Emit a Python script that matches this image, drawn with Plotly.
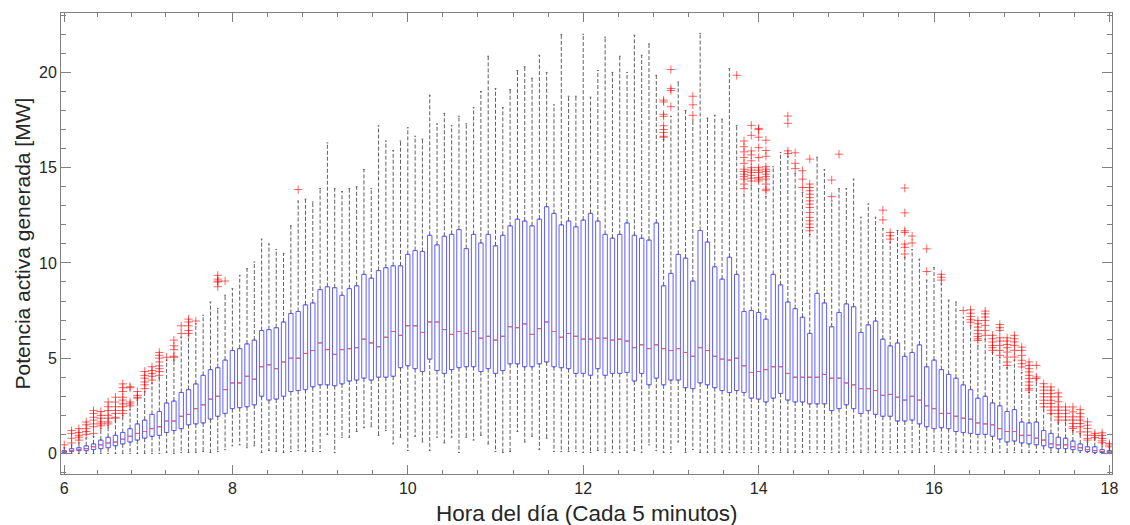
import numpy as np
import plotly.graph_objects as go

# ---------------- data (one box every 5 minutes) ----------------
hour_labels = ["6", "8", "10", "12", "14", "16", "18"]
hour_tick_box = [1, 24, 48, 72, 96, 120, 144]

q1 = [0.05, 0.1, 0.15, 0.15, 0.2, 0.25, 0.3, 0.4, 0.5, 0.6, 0.7, 0.8, 0.9, 0.95, 1.1, 1.2, 1.3, 1.5, 1.55, 1.6,
      1.8, 1.95, 2.1, 2.35, 2.4, 2.45, 2.55, 3.0, 2.8, 2.85, 3.0, 3.25, 3.3, 3.35, 3.5, 3.6, 3.6, 3.55, 3.65, 3.8,
      3.85, 3.95, 3.85, 4.0, 4.0, 4.05, 4.5, 4.6, 4.45, 4.3, 4.95, 4.35, 4.2, 4.4, 4.5, 4.55, 4.55, 4.3, 4.45, 4.2,
      4.35, 4.7, 4.7, 4.55, 4.55, 4.7, 4.8, 4.55, 4.5, 4.45, 4.2, 4.2, 4.1, 4.45, 4.1, 4.2, 4.2, 4.25, 3.8, 4.2,
      3.6, 3.95, 3.6, 3.85, 3.85, 3.45, 3.4, 3.7, 3.6, 3.45, 3.3, 3.2, 3.3, 3.2, 2.9, 2.85, 2.7, 2.9, 3.15, 2.8,
      2.7, 2.7, 2.6, 2.6, 2.6, 2.25, 2.35, 2.55, 2.35, 2.1, 2.25, 2.05, 1.95, 1.95, 1.7, 1.7, 1.75, 1.55, 1.4, 1.3,
      1.35, 1.3, 1.15, 1.1, 1.05, 1.0, 1.0, 0.9, 0.75, 0.6, 0.65, 0.55, 0.5, 0.45, 0.4, 0.3, 0.25, 0.25, 0.2, 0.15,
      0.1, 0.05, 0.05, 0.03]
median = [0.1, 0.15, 0.2, 0.25, 0.35, 0.45, 0.55, 0.6, 0.75, 0.9, 1.05, 1.15, 1.3, 1.4, 1.7, 1.7, 1.95, 2.05, 2.35, 2.55,
          2.85, 3.0, 3.35, 3.7, 3.7, 4.05, 3.9, 4.55, 4.65, 4.45, 4.8, 5.0, 5.0, 5.25, 5.4, 5.8, 5.45, 5.2, 5.45, 5.5,
          5.55, 6.0, 5.8, 5.6, 6.1, 6.4, 6.2, 6.7, 6.7, 6.35, 6.9, 6.9, 6.5, 6.25, 6.4, 6.3, 6.4, 6.05, 6.15, 5.95,
          6.15, 6.65, 6.6, 6.8, 6.25, 6.55, 6.9, 6.4, 6.1, 6.3, 6.15, 6.0, 6.0, 6.05, 6.05, 5.95, 6.0, 5.9, 5.55, 5.7,
          5.5, 5.7, 5.5, 5.4, 5.5, 5.3, 5.1, 5.55, 5.4, 5.1, 4.95, 4.9, 5.0, 4.6, 4.25, 4.3, 4.4, 4.55, 4.55, 4.2,
          4.0, 4.0, 4.0, 4.0, 4.15, 3.95, 3.95, 3.7, 3.6, 3.4, 3.4, 3.3, 3.05, 3.1, 2.95, 2.8, 3.0, 2.8, 2.5, 2.35,
          2.1, 2.1, 1.95, 1.85, 1.8, 1.6, 1.55, 1.5, 1.3, 1.15, 1.15, 0.95, 0.95, 0.8, 0.7, 0.5, 0.45, 0.45, 0.35, 0.3,
          0.2, 0.15, 0.1, 0.08]
q3 = [0.15, 0.25, 0.3, 0.4, 0.5, 0.7, 0.85, 0.95, 1.1, 1.3, 1.55, 1.75, 2.05, 2.2, 2.65, 2.75, 3.2, 3.35, 3.65, 4.1,
      4.4, 4.5, 4.9, 5.4, 5.5, 5.75, 5.95, 6.45, 6.5, 6.6, 6.9, 7.35, 7.45, 7.8, 7.9, 8.6, 8.75, 8.7, 8.3, 8.65,
      8.8, 9.4, 9.2, 9.6, 9.75, 9.85, 9.85, 10.45, 10.65, 10.6, 11.45, 10.95, 11.4, 11.5, 11.75, 10.75, 11.5, 11.05, 11.5, 10.9,
      11.45, 11.95, 12.3, 12.2, 11.95, 12.3, 12.95, 12.6, 12.0, 12.2, 11.9, 12.25, 12.6, 12.2, 11.5, 11.3, 11.5, 12.1, 11.45, 11.3,
      11.2, 12.1, 8.8, 9.45, 10.45, 10.25, 9.05, 11.7, 11.1, 9.8, 9.15, 10.3, 9.4, 7.45, 7.5, 7.4, 7.05, 9.4, 8.85, 7.95,
      7.6, 7.15, 6.3, 8.4, 7.9, 6.65, 7.4, 7.85, 7.7, 6.35, 6.75, 6.95, 6.0, 5.65, 5.8, 5.1, 5.3, 5.7, 4.55, 4.9,
      4.4, 4.15, 3.95, 3.6, 3.35, 2.9, 3.0, 2.65, 2.5, 2.2, 2.3, 1.65, 1.6, 1.65, 1.2, 1.05, 0.85, 0.8, 0.65, 0.5,
      0.35, 0.35, 0.2, 0.15]
whisker_low = [0.0, 0.0, 0.0, 0.0, 0.0, 0.0, 0.0, 0.0, 0.0, 0.0, 0.0, 0.0, 0.0, 0.0, 0.05, 0.0, 0.05, 0.05, 0.05, 0.1,
               0.05, 0.1, 0.2, 0.4, 0.45, 0.3, 0.4, 0.05, 0.15, 0.1, 0.05, 0.1, 0.15, 0.1, 0.1, 0.1, 1.0, 0.05, 0.85, 0.85,
               1.15, 1.35, 1.4, 0.95, 1.2, 0.5, 0.85, 0.15, 0.9, 0.6, 0.15, 0.85, 0.55, 0.85, 0.05, 0.85, 0.7, 0.95, 0.5, 0.1,
               0.05, 0.1, 1.15, 0.6, 0.9, 0.2, 0.8, 0.1, 0.1, 0.1, 0.1, 0.05, 0.05, 0.15, 0.05, 0.05, 0.05, 0.05, 0.15, 0.05,
               0.45, 0.15, 0.05, 0.05, 0.6, 0.05, 0.2, 0.05, 0.05, 0.05, 0.05, 0.05, 0.05, 0.05, 0.05, 0.05, 0.05, 0.05, 0.05, 0.05,
               0.05, 0.05, 0.05, 0.05, 0.05, 0.05, 0.05, 0.05, 0.05, 0.05, 0.05, 0.05, 0.05, 0.05, 0.05, 0.05, 0.05, 0.05, 0.05, 0.1,
               0.05, 0.05, 0.05, 0.05, 0.05, 0.05, 0.05, 0.05, 0.05, 0.05, 0.05, 0.05, 0.05, 0.05, 0.05, 0.05, 0.05, 0.05, 0.05, 0.05,
               0.05, 0.0, 0.0, 0.0]
whisker_high = [0.3, 0.45, 0.55, 0.8, 0.9, 1.3, 1.45, 1.7, 2.0, 2.3, 2.8, 3.25, 3.7, 4.0, 4.9, 4.9, 6.1, 6.2, 6.8, 7.25,
                7.95, 7.6, 8.3, 8.65, 9.35, 9.7, 10.05, 11.25, 11.0, 10.7, 10.5, 11.95, 13.25, 13.35, 13.2, 13.9, 16.3, 13.9, 13.75, 13.9,
                14.0, 14.9, 13.9, 17.2, 16.4, 15.9, 16.4, 17.1, 16.65, 16.5, 18.8, 17.3, 17.85, 17.2, 17.7, 17.3, 18.15, 19.0, 20.85, 19.15,
                18.15, 19.1, 20.1, 20.3, 19.7, 20.9, 20.0, 18.3, 22.0, 18.75, 18.75, 22.0, 18.7, 20.1, 21.85, 20.0, 20.85, 20.0, 21.95, 20.9,
                21.5, 19.85, 16.5, 17.7, 19.5, 18.0, 17.5, 22.05, 17.6, 17.75, 17.55, 20.2, 17.2, 13.6, 14.05, 13.9, 13.5, 15.05, 15.8, 15.6,
                14.7, 13.7, 11.5, 15.55, 14.9, 13.25, 13.9, 13.9, 14.4, 12.4, 13.1, 12.4, 11.8, 11.1, 11.7, 10.3, 10.7, 10.2, 9.1, 9.75,
                8.9, 8.05, 7.95, 7.15, 6.7, 5.65, 6.0, 5.3, 5.05, 4.5, 4.9, 4.25, 3.2, 3.85, 2.45, 2.1, 1.65, 1.75, 1.2, 1.05,
                0.6, 0.8, 0.5, 0.3]

outlier_boxes = [1, 2, 3, 4, 5, 6, 7, 8, 9, 10, 11, 12, 13, 14, 15, 16, 17, 18, 19, 22, 23, 33,
                 83, 84, 87, 93, 94, 95, 96, 97, 100, 101, 102, 103, 106, 107, 113, 114, 116, 117, 119, 121,
                 124, 125, 126, 127, 128, 129, 130, 131, 132, 133, 134, 135, 136, 137, 138, 139, 140, 141, 142, 143, 144]
outlier_values = [
    [0.45],
    [1.2, 1.05, 0.8, 0.55],
    [1.3, 1.1, 0.95, 0.85, 0.7],
    [1.65, 1.5, 1.3, 1.15, 1.0],
    [2.25, 2.1, 1.9, 1.75, 1.55, 1.4, 1.05],
    [2.2, 2.0, 1.85, 1.65, 1.55, 1.45],
    [2.7, 2.45, 2.25, 2.0, 1.85, 1.65, 1.55],
    [2.95, 2.7, 2.45, 2.25, 2.1, 1.9, 1.85],
    [3.65, 3.45, 3.25, 2.95, 2.8, 2.6, 2.45, 2.25, 2.1],
    [3.5, 3.45, 2.7, 2.6, 2.5],
    [3.25, 3.05, 2.95, 2.9],
    [4.3, 4.1, 3.95, 3.75, 3.6, 3.4],
    [4.55, 4.35, 4.2, 4.05, 3.85],
    [5.3, 5.15, 5.0, 4.8, 4.6, 4.45, 4.3, 4.1],
    [5.05],
    [5.95, 5.65, 5.45, 5.1, 5.05],
    [6.7, 6.3],
    [7.05, 6.9, 6.7, 6.45, 6.3],
    [6.95],
    [9.35, 9.15, 9.05, 9.0, 8.75],
    [9.05],
    [13.85],
    [18.55, 18.45, 17.8, 17.7, 17.2, 17.0, 16.85, 16.65, 16.6],
    [20.15, 19.15, 19.05, 18.2],
    [18.75, 18.3, 17.75],
    [19.85],
    [16.4, 16.1, 15.83, 15.53, 15.23, 14.92, 14.8, 14.66, 14.53, 14.4, 14.14, 13.9],
    [17.22, 16.7, 15.88, 15.67, 15.36, 15.0, 14.87, 14.75, 14.6, 14.45, 14.3],
    [17.06, 17.0, 16.6, 16.05, 15.53, 15.0, 14.87, 14.75, 14.48, 14.4, 14.3],
    [16.44, 15.9, 15.6, 15.05, 14.92, 14.8, 14.66, 14.53, 14.4, 14.14, 13.87, 13.79],
    [17.71, 17.33, 15.88, 15.74],
    [15.78, 15.23, 14.95],
    [14.84, 14.4, 13.96],
    [15.45, 14.14, 13.96, 13.79, 13.61, 13.43, 13.26, 13.09, 12.91, 12.65, 12.39, 12.21, 12.04, 11.86, 11.69],
    [14.35, 13.48],
    [15.71],
    [12.77, 12.26],
    [11.6, 11.43, 11.25],
    [13.93, 12.63, 11.69, 11.6, 10.99, 10.82, 10.47],
    [11.41, 11.05],
    [10.74, 9.55],
    [9.4, 9.25, 9.1],
    [7.5],
    [7.54, 7.36, 7.19, 7.02, 6.89],
    [6.98, 6.81, 6.63, 6.46, 6.28, 6.14, 6.02, 5.93],
    [7.47, 7.33, 7.16, 6.98, 6.72, 6.46, 6.2],
    [6.2, 6.02, 5.85, 5.67, 5.55, 5.41],
    [6.77, 6.6, 6.46, 6.07, 5.9, 5.67, 5.41, 5.15],
    [6.07, 5.9, 5.72, 5.55, 5.32, 5.06, 4.8, 4.62],
    [6.2, 6.02, 5.85, 5.67, 5.41, 5.06],
    [5.58, 5.41, 5.15, 4.89, 4.71, 4.54],
    [4.8, 4.62, 4.45, 4.28, 4.1, 3.93, 3.75, 3.58, 3.4, 3.32],
    [4.62, 4.01, 3.93],
    [3.66, 3.49, 3.32, 3.14, 2.97, 2.79, 2.62, 2.44],
    [3.49, 3.32, 3.14, 2.97, 2.79, 2.62, 2.44, 2.27, 2.09],
    [3.18, 2.97, 2.71, 2.44, 2.27, 2.09, 1.92, 1.75],
    [2.44, 2.27, 2.09, 1.92, 1.75],
    [2.44, 2.18, 1.92, 1.75, 1.57, 1.4, 1.31],
    [2.3, 2.09, 1.92, 1.75, 1.57, 1.4, 1.13],
    [1.66, 1.48, 1.31, 1.13, 0.96, 0.79, 0.7],
    [1.05, 0.94, 0.84],
    [1.08, 0.94, 0.79, 0.66, 0.56],
    [0.52, 0.44, 0.35],
]

x_title = "Hora del día (Cada 5 minutos)"
y_title = "Potencia activa generada [MW]"

# ---------------- styling ----------------
BOX_W = 0.6
CAP_W = 0.12
BLUE = "rgb(95,95,255)"
RED = "rgb(255,90,90)"
WHISK = "rgb(95,95,95)"
AX = "rgb(128,128,128)"
TXT = "rgb(38,38,38)"
FONT = "Liberation Sans, Arial, sans-serif"

pos = np.arange(1, len(q1) + 1)

# whiskers (dashed)
wx, wy = [], []
for p, lo, a, b, hi in zip(pos, whisker_low, q1, q3, whisker_high):
    wx += [p, p, None, p, p, None]
    wy += [b, hi, None, a, lo, None]

# whisker caps
cx, cy = [], []
for p, lo, hi in zip(pos, whisker_low, whisker_high):
    cx += [p - CAP_W, p + CAP_W, None, p - CAP_W, p + CAP_W, None]
    cy += [hi, hi, None, lo, lo, None]

# medians
mx, my = [], []
for p, m in zip(pos, median):
    mx += [p - BOX_W / 2 + 0.05, p + BOX_W / 2 - 0.05, None]
    my += [m, m, None]

ox, oy = [], []
for b, vals in zip(outlier_boxes, outlier_values):
    ox += [b] * len(vals)
    oy += vals

fig = go.Figure()
fig.add_trace(go.Scatter(x=wx, y=wy, mode="lines",
                         line=dict(color=WHISK, width=1, dash="4px,2px"),
                         hoverinfo="skip", showlegend=False))
fig.add_trace(go.Scatter(x=cx, y=cy, mode="lines",
                         line=dict(color=WHISK, width=1),
                         hoverinfo="skip", showlegend=False))
fig.add_trace(go.Box(x=pos, q1=q1, median=median, q3=q3,
                     lowerfence=q1, upperfence=q3, width=BOX_W,
                     line=dict(color=BLUE, width=1),
                     fillcolor="rgba(0,0,0,0)", boxpoints=False,
                     showlegend=False))
fig.add_trace(go.Scatter(x=mx, y=my, mode="lines",
                         line=dict(color=RED, width=1),
                         hoverinfo="skip", showlegend=False))
fig.add_trace(go.Scatter(x=ox, y=oy, mode="markers",
                         marker=dict(symbol="cross-thin", size=6,
                                     line=dict(color="rgba(255,0,0,0.6)", width=1)),
                         showlegend=False))

# minor ticks: 5 subdivisions between labelled hours
minor_x = []
for a, b in zip(hour_tick_box[:-1], hour_tick_box[1:]):
    minor_x += list(np.linspace(a, b, 6)[1:-1])

fig.update_layout(
    width=1130, height=525,
    margin=dict(l=61, r=14, t=12, b=51),
    paper_bgcolor="white", plot_bgcolor="white",
    font=dict(family=FONT, color=TXT, size=16),
    showlegend=False,
    annotations=[
        dict(text=x_title, xref="paper", yref="paper", x=0.5, y=0,
             xanchor="center", yanchor="middle", yshift=-39, showarrow=False,
             font=dict(size=22.5, color=TXT, family=FONT)),
        dict(text=y_title, xref="paper", yref="paper", x=0, y=0.5,
             xanchor="center", yanchor="middle", xshift=-39, textangle=-90,
             showarrow=False, font=dict(size=21, color=TXT, family=FONT)),
    ],
)
fig.update_xaxes(
    range=[0.55, 144.35], tickmode="array", tickvals=hour_tick_box, ticktext=hour_labels,
    ticks="inside", ticklen=9, tickwidth=1, tickcolor=AX,
    showline=True, linecolor=AX, linewidth=1, mirror="allticks",
    showgrid=False, zeroline=False, tickfont=dict(size=16, color=TXT),
    minor=dict(tickmode="array", tickvals=minor_x, ticks="inside", ticklen=4,
               tickcolor=AX, tickwidth=1, showgrid=False),
)
fig.update_yaxes(
    range=[-1.08, 23.12], tickmode="array", tickvals=[0, 5, 10, 15, 20],
    ticks="inside", ticklen=10, tickwidth=1, tickcolor=AX,
    showline=True, linecolor=AX, linewidth=1, mirror="allticks",
    showgrid=False, zeroline=False, tickfont=dict(size=16, color=TXT),
    minor=dict(dtick=1, tick0=0, ticks="inside", ticklen=5,
               tickcolor=AX, tickwidth=1, showgrid=False),
)

fig.write_html("out.html")
